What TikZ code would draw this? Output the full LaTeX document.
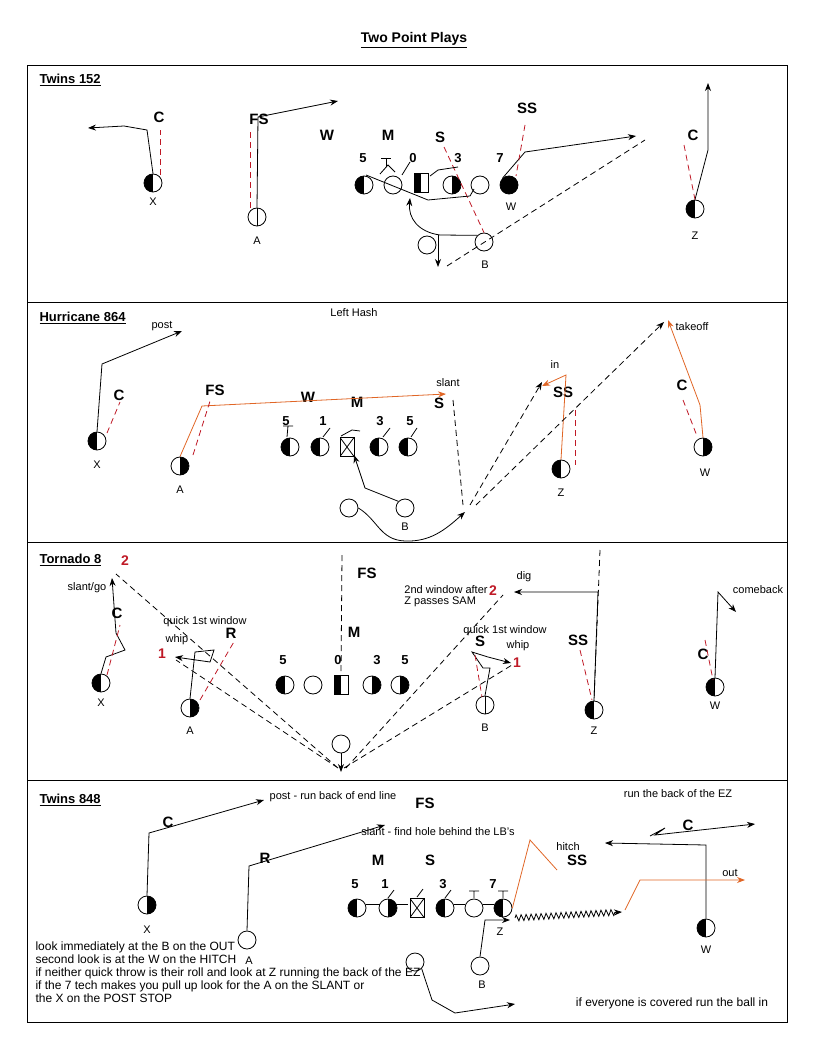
\documentclass[tikz,border=0pt]{standalone}
\usepackage{fontspec}
\setmainfont{Liberation Sans}
\usetikzlibrary{arrows.meta}
\usetikzlibrary{decorations.pathmorphing}
\definecolor[named]{RouteOrange}{rgb}{0.88,0.40,0.15}
\definecolor[named]{KeyRed}{rgb}{0.75,0.10,0.15}
\tikzset{
  plyr/.style={circle,draw,thick,fill=white,minimum size=18pt,inner sep=0pt},
  halfL/.style={plyr,path picture={\fill[black] (path picture bounding box.south west) rectangle (path picture bounding box.north);}},
  halfR/.style={plyr,path picture={\fill[black] (path picture bounding box.south) rectangle (path picture bounding box.north east);}},
  vline/.style={plyr,path picture={\draw[black] (path picture bounding box.south) -- (path picture bounding box.north);}},
  solid plyr/.style={plyr,fill=black},
  ctr/.style={draw,thick,fill=white,minimum width=14pt,minimum height=19pt,inner sep=0pt},
  ctrX/.style={ctr,path picture={\draw[black] (path picture bounding box.south west) -- (path picture bounding box.north east) (path picture bounding box.north west) -- (path picture bounding box.south east);}},
  ctrH/.style={ctr,path picture={\fill[black] (path picture bounding box.south west) rectangle (path picture bounding box.north);}},
  dfn/.style={font=\bfseries\fontsize{15}{15}\selectfont},
  tech/.style={font=\bfseries\fontsize{13}{13}\selectfont},
  tag/.style={font=\fontsize{11}{11}\selectfont},
  note/.style={font=\fontsize{12}{13}\selectfont},
  playname/.style={font=\bfseries\fontsize{13}{13}\selectfont,anchor=west},
  dsh/.style={dash pattern=on 6pt off 4pt},
  route/.style={thick,->},
  orange route/.style={thick,->,RouteOrange},
  read/.style={thick,dsh,->},
  key/.style={thick,dsh,KeyRed},
  num/.style={font=\bfseries\fontsize{14}{14}\selectfont,KeyRed},
}
\begin{document}
\begin{tikzpicture}[x=1pt,y=-1pt,>={Stealth[length=8pt]}]
  \useasboundingbox (0,0) rectangle (817,1059);
  \node[font=\bfseries\fontsize{14}{14}\selectfont] (title) at (414,40) {\underline{Two Point Plays}};
  \draw[thick] (27,65) rectangle (787,1022);
  \foreach \y in {302,542,780} \draw[thick] (27,\y) -- (787,\y);

  % Twins 152
  \node[playname] (p1) at (36,80) {\underline{Twins 152}};
  \node[halfL] (x1) at (153,183) {};
  \node[tag] at (153,202) {X};
  \node[vline] (a1) at (257,217) {};
  \node[tag] at (257,241) {A};
  \node[halfL] (l1a) at (364,185) {};
  \node[plyr] (l1b) at (393,185) {};
  \node[ctrH] (c1) at (421,183) {};
  \node[halfR] (l1c) at (452,185) {};
  \node[plyr] (l1d) at (480,185) {};
  \node[solid plyr] (w1) at (509,185) {};
  \node[tag] at (511,207) {W};
  \node[halfL] (z1) at (695,209) {};
  \node[tag] at (695,236) {Z};
  \node[plyr] (b1) at (484,242) {};
  \node[tag] at (485,265) {B};
  \node[plyr] (q1) at (427,245) {};
  \node[dfn] (c1l) at (159,117) {C};
  \node[dfn] (fs1) at (259,119) {FS};
  \node[dfn] (w1l) at (327,135) {W};
  \node[dfn] (m1) at (388,135) {M};
  \node[dfn] (s1) at (440,137) {S};
  \node[dfn] (ss1) at (527,108) {SS};
  \node[dfn] (c1r) at (693,135) {C};
  \foreach \t/\xx in {5/363,0/413,3/458,7/500} \node[tech] at (\xx,158) {\t};
  \draw[route] (x1.north) -- (147,130) -- (124,126) -- (88,128);
  \draw[route] (a1.north) -- (258,117) -- (338,101);
  \draw[route] (w1.north west) -- (525,152) -- (636,136);
  \draw[route] (z1.north) -- (708,150) -- (708,83);
  \draw[route] (b1.north west) -- (440,235) .. controls (418,232) and (408,218) .. (410,198);
  \draw[route] (438,235) -- (438,267);
  \draw[thick,dsh] (447,266) -- (645,140);
  \draw[key] (160,175) -- (160,130);
  \draw[key] (250,208) -- (250,130);
  \draw[key] (444,147) -- (b1.north);
  \draw[key] (525,125) -- (516,176);
  \draw[key] (684,145) -- (z1.north);
  \draw[thick] (366,175) -- (428,200) -- (470,196) -- (474,189);
  \draw[thick] (380,174) -- (388,165) -- (395,172);
  \draw[thick] (386,158) -- (386,167) (381,158) -- (391,158);
  \draw[thick] (402,175) -- (410,162);
  \draw[thick] (430,176) -- (438,170) -- (458,167);

  % Hurricane 864
  \node[playname] (p2) at (36,318) {\underline{Hurricane 864}};
  \node[tag] (hash) at (354,313) {Left Hash};
  \node[halfL] (x2) at (97,441) {};
  \node[tag] at (97,465) {X};
  \node[halfR] (a2) at (180,466) {};
  \node[tag] at (180,490) {A};
  \node[halfL] (l2a) at (290,447) {};
  \node[halfL] (l2b) at (320,447) {};
  \node[ctrX] (c2) at (347,447) {};
  \node[halfL] (l2c) at (379,447) {};
  \node[halfL] (l2d) at (408,447) {};
  \node[plyr] (q2) at (349,508) {};
  \node[plyr] (b2) at (405,508) {};
  \node[tag] at (405,527) {B};
  \node[halfL] (z2) at (561,469) {};
  \node[tag] at (561,493) {Z};
  \node[halfR] (w2) at (703,447) {};
  \node[tag] at (705,473) {W};
  \node[dfn] at (119,395) {C};
  \node[dfn] at (215,390) {FS};
  \node[dfn] at (308,397) {W};
  \node[dfn] at (357,402) {M};
  \node[dfn] at (439,403) {S};
  \node[dfn] at (563,392) {SS};
  \node[dfn] at (682,385) {C};
  \foreach \t/\xx in {5/286,1/323,3/380,5/410} \node[tech] at (\xx,421) {\t};
  \node[tag] at (162,326) {post};
  \node[tag] at (448,383) {slant};
  \node[tag] at (555,365) {in};
  \node[tag] at (692,327) {takeoff};
  \draw[route] (x2.north) -- (102,364) -- (182,331);
  \draw[orange route] (a2.north) -- (202,406) -- (446,394);
  \draw[orange route] (z2.north) -- (566,375) -- (542,386);
  \draw[orange route] (w2.north) -- (700,405) -- (668,320);
  \draw[route] (b2.north west) -- (365,488) -- (354,455);
  \draw[route] (q2.east) .. controls (378,520) and (380,540) .. (405,541) .. controls (430,542) and (445,530) .. (465,512);
  \draw[thick,dsh] (453,400) -- (463,505);
  \draw[read] (470,505) -- (542,382);
  \draw[read] (476,505) -- (664,322);
  \draw[key] (107,433) -- (120,402);
  \draw[key] (193,455) -- (211,398);
  \draw[key] (575,410) -- (575,465);
  \draw[key] (683,400) -- (697,436);
  \draw[thick] (287,437) -- (288,426) (283,426) -- (293,426) (323,437) -- (330,428) (341,436) -- (352,430) -- (360,431) (383,437) -- (390,428) (411,437) -- (417,428);

  % Tornado 8
  \node[playname] (p3) at (36,560) {\underline{Tornado 8}};
  \node[num] at (125,561) {2};
  \node[halfL] (x3) at (101,683) {};
  \node[tag] at (101,703) {X};
  \node[halfR] (a3) at (190,708) {};
  \node[tag] at (190,731) {A};
  \node[halfL] (l3a) at (285,685) {};
  \node[plyr] (l3b) at (313,685) {};
  \node[ctrH] (c3) at (341,685) {};
  \node[halfR] (l3c) at (372,685) {};
  \node[halfR] (l3d) at (400,685) {};
  \node[plyr] (q3) at (341,744) {};
  \node[vline] (b3) at (485,705) {};
  \node[tag] at (485,728) {B};
  \node[halfL] (z3) at (594,710) {};
  \node[tag] at (594,731) {Z};
  \node[halfL] (w3) at (715,687) {};
  \node[tag] at (715,706) {W};
  \node[dfn] at (117,613) {C};
  \node[dfn] at (231,633) {R};
  \node[dfn] at (354,632) {M};
  \node[dfn] at (367,573) {FS};
  \node[dfn] at (480,641) {S};
  \node[dfn] at (578,640) {SS};
  \node[dfn] at (703,654) {C};
  \foreach \t/\xx in {5/283,0/338,3/377,5/405} \node[tech] at (\xx,660) {\t};
  \node[tag] at (87,588) {slant/go};
  \node[tag] at (205,622) {quick 1st window};
  \node[tag] at (177,640) {whip};
  \node[num] at (162,654) {1};
  \node[tag] at (505,631) {quick 1st window};
  \node[tag] at (518,646) {whip};
  \node[num] at (517,663) {1};
  \node[tag,align=left] at (446,596) {2nd window after\\Z passes SAM};
  \node[num] at (493,591) {2};
  \node[tag] at (524,577) {dig};
  \node[tag] at (758,590) {comeback};
  \draw[route] (x3.north) -- (106,657) -- (125,650) -- (116,633) -- (112,578);
  \draw[route] (a3.north) -- (195,652) -- (214,650) -- (210,662) -- (175,657);
  \draw[route] (b3.north) -- (490,668) -- (483,668) -- (472,652) -- (488,657) -- (511,663);
  \draw[route] (z3.north) -- (598,592) -- (514,592);
  \draw[route] (w3.north) -- (718,592) -- (736,612);
  \draw[route] (q3.south) -- (341,772);
  \draw[thick,dsh] (342,555) -- (c3.north);
  \draw[thick,dsh] (600,550) -- (z3.north);
  \draw[thick,dsh] (338,768) -- (116,574) (338,768) -- (176,660);
  \draw[thick,dsh] (344,768) -- (512,665) (346,768) -- (503,595);
  \draw[key] (107,675) -- (120,625);
  \draw[key] (200,700) -- (235,640);
  \draw[key] (475,655) -- (482,697);
  \draw[key] (580,650) -- (592,700);
  \draw[key] (705,640) -- (713,680);

  % Twins 848
  \node[playname] (p4) at (36,800) {\underline{Twins 848}};
  \node[halfR] (x4) at (147,905) {};
  \node[tag] at (147,930) {X};
  \node[plyr] (a4) at (247,940) {};
  \node[tag] at (249,961) {A};
  \node[halfL] (l4a) at (357,908) {};
  \node[halfR] (l4b) at (388,908) {};
  \node[ctrX] (c4) at (417,908) {};
  \node[halfL] (l4c) at (445,908) {};
  \node[plyr] (l4d) at (474,908) {};
  \node[halfL] (z4) at (503,908) {};
  \node[tag] at (500,932) {Z};
  \node[plyr] (b4) at (480,966) {};
  \node[tag] at (482,985) {B};
  \node[plyr] (q4) at (415,962) {};
  \node[halfL] (w4) at (706,928) {};
  \node[tag] at (706,950) {W};
  \node[dfn] at (168,822) {C};
  \node[dfn] at (265,858) {R};
  \node[dfn] at (378,860) {M};
  \node[dfn] at (430,860) {S};
  \node[dfn] at (425,803) {FS};
  \node[dfn] at (577,860) {SS};
  \node[dfn] at (688,825) {C};
  \foreach \t/\xx in {5/355,1/385,3/443,7/493} \node[tech] at (\xx,884) {\t};
  \node[tag] at (333,797) {post - run back of end line};
  \node[tag] at (438,832) {slant - find hole behind the LB's};
  \node[tag] at (568,847) {hitch};
  \node[tag] at (678,794) {run the back of the EZ};
  \node[tag] at (730,873) {out};
  \node[note,align=left,anchor=north west] at (32,938) {look immediately at the B on the OUT\\second look is at the W on the HITCH\\if neither quick throw is their roll and look at Z running the back of the EZ\\if the 7 tech makes you pull up look for the A on the SLANT or\\the X on the POST STOP};
  \node[note] at (672,1003) {if everyone is covered run the ball in};
  \draw[route] (x4.north) -- (149,833) -- (264,800);
  \draw[route] (a4.north) -- (249,866) -- (385,825);
  \draw[route] (w4.north) -- (706,845) -- (605,843);
  \draw[route] (650,836) -- (665,828) -- (655,835) -- (755,824);
  \draw[route] (b4.north) -- (485,920) -- (510,920);
  \draw[route] (q4.south east) -- (432,1000) -- (455,1013) -- (515,1004);
  \draw[thick,RouteOrange] (z4.east) -- (530,840) -- (557,870);
  \draw[thick,->,decorate,decoration={zigzag,segment length=5pt,amplitude=3pt,post length=6pt}] (515,918) -- (622,912);
  \draw[orange route] (625,910) -- (640,880) -- (745,880);
  \draw[thick] (366,904) -- (380,904) (396,904) -- (408,904) (454,904) -- (465,904) (483,904) -- (494,904);
  \draw[thick] (388,898) -- (394,890) (417,897) -- (423,889) (445,898) -- (451,890) (474,898) -- (474,891) (469,891) -- (479,891) (503,898) -- (503,891) (498,891) -- (508,891);
\end{tikzpicture}
\end{document}
